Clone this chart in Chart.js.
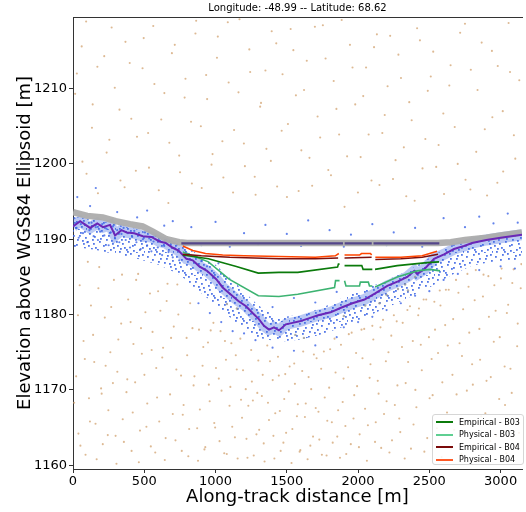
<!DOCTYPE html>
<html>
<head>
<meta charset="utf-8">
<script src="https://cdn.jsdelivr.net/npm/chart.js@4/dist/chart.umd.min.js"></script>
<style>
html, body { margin: 0; padding: 0; background: #fff; }
#wrap { position: relative; width: 526px; height: 512px; }
#legend {
  position: absolute; left: 432px; top: 414px; width: 92px; height: 51px;
  box-sizing: border-box; border: 1px solid #d6d6d6; border-radius: 3px;
  background: rgba(255,255,255,0.85); padding: 1px 0 0 3px;
  font: 8px 'DejaVu Sans', sans-serif; color: #000;
}
.row { height: 12.5px; display: flex; align-items: center; white-space: nowrap; }
.sw { width: 17px; height: 2px; margin-right: 6px; }
</style>
</head>
<body>
<div id="wrap">
  <canvas id="c" width="526" height="512"></canvas>
  <div id="legend"></div>
</div>
<script>
// tick labels
const xTicks = [0, 500, 1000, 1500, 2000, 2500, 3000];
const yTicks = [1160, 1170, 1180, 1190, 1200, 1210];
const titleText = 'Longitude: -48.99 -- Latitude: 68.62';

// ice surface (grey band) and lake surface
const surfaceLine = [[0,1193.6],[100,1193.1],[209,1192.9],[300,1192.4],[400,1192.0],[488,1191.7],[560,1191.0],[656,1190.0],[746,1189.6],[800,1189.5],
  [2560,1189.5],[2650,1189.6],[2750,1189.9],[2900,1190.2],[3000,1190.5],[3150,1190.9]];
const lakeLine = [[760,1189.45],[1894,1189.45],[1900,null],[1906,1189.45],[2096,1189.45],[2102,null],[2108,1189.45],[2570,1189.45]];

// lake bed profile
const bedLine = [[0,1191.7],[50,1192.4],[120,1191.5],[170,1192.1],[210,1191.6],[260,1191.9],[295,1190.5],[340,1191.2],[377,1190.9],[430,1190.8],
  [490,1190.4],[550,1190.3],[607,1189.7],[650,1189.5],[697,1188.9],[740,1188.5],[796,1187.4],[840,1187.2],[886,1186.4],[940,1185.8],
  [1005,1184.7],[1050,1183.6],[1117,1182.5],[1160,1181.8],[1214,1181.1],[1260,1180.2],[1304,1179.4],[1340,1178.5],[1375,1178.0],[1410,1178.3],
  [1445,1177.9],[1493,1178.7],[1540,1178.9],[1590,1179.1],[1654,1179.5],[1720,1179.9],[1807,1180.3],[1880,1180.9],[1960,1181.5],[2045,1182.0],
  [2120,1182.8],[2205,1183.8],[2280,1184.4],[2345,1185.0],[2394,1185.8],[2414,1185.4],[2463,1186.0],[2533,1187.4],[2603,1188.0],[2673,1188.7],
  [2743,1189.1],[2800,1189.5],[2900,1189.9],[3000,1190.2],[3150,1190.6]];

// envelope of the dense signal photon cloud
const signalUpper = [[0,1193.0],[150,1192.6],[300,1192.0],[450,1191.3],[600,1190.4],[750,1189.3],[850,1188.3],[1000,1186.6],[1150,1184.0],
  [1300,1181.2],[1450,1179.6],[1600,1180.0],[1750,1180.9],[1900,1182.3],[2050,1183.4],[2200,1184.6],[2350,1185.8],[2500,1187.5],[2650,1189.2],
  [2800,1189.7],[2950,1190.1],[3150,1190.6]];
const signalLower = [[0,1189.0],[150,1188.6],[300,1188.0],[450,1187.4],[600,1186.6],[750,1185.3],[850,1183.6],[1000,1181.3],[1150,1178.8],
  [1300,1176.9],[1450,1176.4],[1600,1176.7],[1750,1177.4],[1900,1178.4],[2050,1179.6],[2200,1180.9],[2350,1182.2],[2500,1183.6],[2650,1185.2],
  [2800,1186.5],[2950,1187.0],[3150,1187.3]];

// depth estimates
const empB03 = [[770,1187.9],[950,1187.4],[1140,1186.4],[1300,1185.5],[1445,1185.6],[1577,1185.6],[1856,1186.3],[1862,1186.7],[1870,1186.7],[1885,null],
  [1905,1186.5],[2026,1186.5],[2035,1186.0],[2100,1186.0],[2110,null],[2119,1186.0],[2275,1186.5],[2484,1186.9],[2568,1187.0]];
const phyB03 = [[770,1188.3],[950,1187.0],[1095,1184.7],[1300,1182.5],[1445,1182.4],[1577,1182.7],[1835,1183.6],[1842,1184.5],[1870,1184.5],[1885,null],
  [1905,1184.5],[1915,1183.8],[2010,1183.8],[2016,1184.3],[2072,1184.3],[2080,1183.8],[2100,1183.8],[2110,null],[2119,1183.7],[2135,1183.8],
  [2275,1185.0],[2414,1185.8],[2505,1186.0],[2575,1185.8]];
const empB04 = [[770,1188.0],[900,1187.8],[1100,1187.6],[1445,1187.4],[1700,1187.4],[1860,1187.5],[1880,null],[1905,1187.5],[2095,1187.6],[2110,null],
  [2121,1187.3],[2300,1187.4],[2450,1187.6],[2561,1188.0]];
const phyB04 = [[770,1189.1],[840,1188.5],[930,1188.1],[1050,1187.9],[1200,1187.8],[1445,1187.7],[1700,1187.6],[1840,1187.8],[1865,1188.1],[1880,null],
  [1905,1187.9],[2010,1187.9],[2024,1188.1],[2087,1188.1],[2095,1187.9],[2110,null],[2121,1187.6],[2300,1187.6],[2450,1187.8],[2554,1188.4]];

// scattered signal photons (blue)
const signalPhotons = [
  [10,1192.8],[25,1191.5],[40,1190.2],[55,1192.0],[70,1190.8],[85,1191.9],[100,1189.6],[115,1191.2],[130,1192.2],[145,1190.4],[160,1191.6],[175,1189.9],
  [190,1191.0],[205,1192.0],[220,1190.5],[235,1191.4],[250,1189.2],[265,1190.9],[280,1191.7],[295,1190.1],[310,1191.2],[325,1189.6],[340,1190.7],
  [355,1191.5],[370,1189.9],[385,1190.8],[400,1188.9],[415,1190.3],[430,1191.1],[445,1189.6],[460,1190.6],[475,1188.7],[490,1190.0],[505,1190.9],
  [520,1189.2],[535,1190.1],[550,1188.4],[565,1189.7],[580,1190.4],[595,1188.9],[610,1189.8],[625,1187.9],[640,1189.1],[655,1189.9],[670,1188.3],
  [685,1189.2],[700,1187.6],[715,1188.8],[730,1189.3],[745,1187.2],
  [30,1195.6],[120,1194.4],[160,1196.8],[310,1193.6],[450,1192.9],[520,1193.8],[640,1191.8],[700,1192.4],[830,1191.6],[1000,1192.3],[1200,1190.8],
  [1350,1191.9],[1500,1190.7],[1650,1192.5],[1800,1191.2],[1950,1190.6],[2100,1192.0],[2250,1190.9],[2400,1191.5],[2600,1192.8],[2750,1191.6],
  [2850,1193.0],[2950,1192.1],[3050,1193.4],[3120,1192.2],
  [880,1181.5],[960,1180.2],[1040,1179.0],[1120,1177.8],[1200,1177.5],[1280,1176.6],[1020,1186.8],[1060,1185.1],[900,1187.1],[940,1186.4],
  [1400,1181.0],[1550,1182.2],[1700,1181.6],[1850,1183.0],[1400,1175.6],[1550,1175.2],[1700,1175.9],[1850,1177.0],
  [1900,1178.3],[2000,1179.0],[2100,1179.7],[2200,1180.6],[2300,1181.5],[2400,1182.5],[2500,1183.1],[2600,1184.6],[2700,1185.4],[2850,1185.9],
  [3000,1186.4],[3100,1186.1],
  [900,1189.2],[1100,1189.0],[1300,1189.3],[1600,1189.1],[1900,1189.0],[2200,1189.2],[2450,1189.0]
];

// low-confidence photons (grey)
const grayPhotons = [[1080,1181.4],[1150,1180.8],[1560,1177.3],[1620,1176.9],[1900,1179.8],[2050,1181.2],[2150,1181.5],[2200,1182.6],
  [2280,1183.4],[2330,1184.0],[2350,1183.2],[2400,1185.0]];

// background noise photons (tan)
const noisePhotons = [
  [15,1209.3],[22,1171.8],[38,1164.2],[47,1183.9],[61,1215.6],[74,1176.5],[88,1161.4],[95,1198.7],[112,1168.9],[126,1181.2],[133,1204.8],[149,1173.7],
  [158,1165.5],[171,1212.9],[184,1186.3],[197,1170.2],[209,1162.8],[223,1179.6],[236,1201.5],[248,1167.3],[262,1175.0],[271,1218.1],[287,1184.6],
  [299,1163.9],[311,1172.4],[326,1207.2],[338,1178.8],[349,1166.1],[362,1196.9],[375,1169.7],[387,1182.0],[398,1213.4],[411,1161.9],[424,1176.1],
  [436,1171.0],[449,1203.6],[457,1185.4],[470,1164.6],[483,1174.8],[496,1216.7],[508,1180.3],[521,1168.2],[533,1199.5],[546,1162.5],[558,1177.7],
  [571,1210.6],[584,1172.9],[597,1183.1],[605,1165.8],[619,1205.9],[632,1175.6],[644,1160.7],[657,1181.8],[669,1194.8],[681,1169.4],[694,1214.7],
  [707,1178.4],[719,1163.3],[732,1184.0],[745,1201.1],[758,1171.9],[770,1166.7],[783,1208.8],[797,1176.9],[809,1161.2],[822,1181.5],[834,1197.4],
  [846,1170.6],[859,1217.3],[871,1164.9],[884,1178.0],[897,1205.0],[909,1173.2],[922,1162.1],[934,1211.8],[947,1176.3],[959,1168.5],[972,1199.9],
  [985,1178.9],[997,1165.0],[1010,1214.1],[1023,1171.5],[1035,1177.8],[1048,1203.0],[1061,1161.6],[1073,1174.0],[1086,1218.8],[1098,1167.9],
  [1111,1176.2],[1123,1196.2],[1136,1163.7],[1149,1172.7],[1161,1209.5],[1174,1176.8],[1186,1166.3],[1199,1202.7],[1212,1170.1],[1224,1161.0],
  [1237,1215.2],[1250,1175.3],[1262,1168.6],[1275,1198.3],[1287,1164.1],[1300,1173.9],[1313,1207.6],[1325,1169.2],[1338,1162.9],[1350,1212.4],
  [1363,1175.9],[1375,1166.0],[1388,1200.4],[1401,1171.3],[1413,1160.9],[1426,1216.0],[1438,1174.4],[1451,1167.2],[1464,1204.4],[1476,1163.0],
  [1489,1172.1],[1501,1195.6],[1514,1169.8],[1527,1217.9],[1539,1164.8],[1552,1173.5],[1564,1209.1],[1577,1168.1],[1590,1161.8],[1602,1201.8],
  [1615,1175.1],[1627,1166.4],[1640,1213.7],[1653,1171.7],[1665,1162.6],[1678,1197.1],[1690,1174.7],[1703,1167.6],[1716,1206.3],[1728,1163.4],
  [1741,1172.8],[1753,1218.4],[1766,1169.0],[1779,1161.3],[1791,1199.2],[1804,1175.4],[1816,1165.7],[1829,1211.0],[1842,1172.3],[1854,1163.8],
  [1867,1203.9],[1880,1176.0],[1892,1168.4],[1905,1194.3],[1917,1161.5],[1930,1173.0],[1943,1215.8],[1955,1177.6],[1968,1166.2],[1980,1207.9],
  [1993,1170.5],[2006,1162.4],[2018,1200.9],[2031,1174.2],[2043,1178.1],[2056,1212.8],[2069,1165.3],[2081,1171.6],[2094,1197.8],[2107,1176.7],
  [2119,1163.1],[2132,1217.2],[2144,1169.5],[2157,1178.3],[2170,1204.1],[2182,1166.8],[2195,1173.8],[2207,1210.3],[2220,1161.7],[2233,1177.2],
  [2245,1198.0],[2258,1168.0],[2271,1179.1],[2283,1214.5],[2296,1164.4],[2308,1175.7],[2321,1202.2],[2334,1170.9],[2346,1180.6],[2359,1208.2],
  [2371,1162.2],[2384,1176.5],[2397,1195.1],[2409,1167.7],[2422,1179.9],[2434,1216.4],[2447,1172.6],[2460,1182.0],[2472,1203.3],[2485,1163.6],
  [2497,1177.0],[2510,1211.6],[2523,1169.3],[2535,1181.7],[2548,1199.6],[2561,1174.9],[2573,1183.2],[2586,1161.1],[2598,1206.7],[2611,1178.6],
  [2624,1167.0],[2636,1183.3],[2649,1213.1],[2662,1172.0],[2674,1164.7],[2687,1184.6],[2699,1200.0],[2712,1176.2],[2725,1161.5],[2737,1180.7],
  [2750,1218.6],[2763,1169.9],[2775,1183.7],[2788,1196.6],[2800,1173.4],[2813,1162.7],[2826,1185.9],[2838,1209.8],[2851,1178.1],[2864,1166.5],
  [2876,1182.4],[2889,1204.6],[2901,1171.2],[2914,1185.1],[2927,1163.2],[2939,1215.0],[2952,1176.4],[2965,1180.5],[2977,1197.5],[2990,1168.8],
  [3002,1184.8],[3015,1207.0],[3028,1173.1],[3040,1161.6],[3053,1181.3],[3066,1212.2],[3078,1169.6],[3091,1186.0],[3103,1200.7],[3116,1175.8],
  [3129,1164.3],[3141,1183.5]
];
const noiseLow = [
  [8,1168.3],[35,1179.9],[52,1162.6],[83,1174.1],[104,1187.0],[119,1165.8],[141,1177.3],[166,1160.8],[178,1183.5],[201,1169.5],[229,1173.2],
  [244,1164.0],[268,1181.0],[280,1170.9],[305,1160.2],[318,1176.7],[344,1185.3],[357,1163.1],[381,1171.4],[404,1179.0],[419,1167.0],[443,1184.6],
  [462,1160.4],[477,1178.2],[501,1172.0],[515,1165.1],[540,1182.8],[552,1175.3],[577,1161.7],[590,1169.0],[613,1180.5],[626,1174.3],[650,1163.6],
  [663,1184.1],[688,1176.9],[700,1166.8],[725,1172.7],[739,1180.0],[763,1161.9],[776,1168.0],[801,1174.6],[815,1164.8],[838,1178.2],[852,1171.8],
  [877,1160.6],[890,1167.4],[914,1175.7],[928,1162.4],[953,1170.7],[966,1177.9],[991,1165.6],[1003,1172.9],[1028,1163.2],[1042,1169.9],
  [1066,1176.5],[1079,1161.5],[1104,1170.4],[1117,1165.1],[1142,1174.6],[1155,1160.9],[1179,1168.7],[1193,1172.6],[1217,1163.5],[1230,1167.9],
  [1255,1171.1],[1268,1161.3],[1293,1169.6],[1306,1164.7],[1331,1172.0],[1344,1160.5],[1368,1168.3],[1382,1173.8],[1406,1163.9],[1419,1166.9],
  [1444,1171.9],[1457,1161.9],[1482,1168.8],[1495,1164.3],[1520,1173.1],[1533,1160.3],[1557,1170.8],[1571,1166.5],[1595,1162.0],[1608,1172.5],
  [1633,1168.2],[1646,1160.8],[1671,1170.1],[1684,1163.8],[1709,1174.2],[1722,1167.1],[1746,1161.4],[1760,1175.1],[1784,1165.9],[1797,1170.3],
  [1822,1163.0],[1835,1176.8],[1860,1167.3],[1873,1161.0],[1898,1171.5],[1911,1165.2],[1935,1177.4],[1949,1162.8],[1973,1169.3],[1986,1174.9],
  [2011,1164.1],[2024,1178.0],[2049,1167.5],[2062,1160.6],[2087,1173.4],[2100,1178.5],[2124,1165.7],[2138,1171.2],[2162,1162.3],[2175,1179.3],
  [2200,1168.5],[2213,1175.0],[2238,1163.3],[2251,1179.9],[2276,1170.6],[2289,1166.2],[2313,1178.9],[2327,1160.9],[2351,1173.7],[2364,1181.1],
  [2389,1165.4],[2402,1170.0],[2427,1180.8],[2440,1176.0],[2465,1161.8],[2478,1182.0],[2502,1168.9],[2516,1174.1],[2540,1178.0],[2553,1164.9],
  [2578,1181.2],[2591,1171.0],[2616,1183.3],[2629,1175.9],[2653,1162.2],[2667,1179.4],[2691,1169.4],[2704,1182.9],[2729,1174.5],[2742,1165.3],
  [2767,1185.4],[2780,1177.6],[2805,1170.7],[2818,1181.9],[2842,1160.7],[2856,1174.0],[2880,1185.3],[2893,1166.9],[2918,1179.7],[2931,1171.7],
  [2956,1183.9],[2969,1163.9],[2994,1177.0],[3007,1186.1],[3031,1168.0],[3044,1180.2],[3069,1172.8],[3082,1184.2],[3107,1162.5],[3120,1178.8],
  [3145,1186.7]
];
const noiseHigh = [
  [27,1212.0],[66,1200.3],[92,1218.9],[138,1207.9],[175,1196.1],[219,1214.3],[255,1203.2],[293,1210.1],[333,1197.8],[368,1216.2],[409,1206.0],
  [441,1199.1],[488,1212.7],[527,1204.1],[563,1218.3],[602,1196.5],[641,1209.4],[676,1202.8],[714,1215.8],[751,1198.9],[789,1211.3],[828,1205.6],
  [864,1219.0],[903,1196.8],[941,1208.6],[979,1201.3],[1016,1216.9],[1055,1198.2],[1092,1210.8],[1130,1204.5],[1168,1219.2],[1206,1199.7],
  [1243,1212.2],[1281,1195.9],[1319,1208.1],[1357,1202.0],[1394,1217.6],[1432,1197.0],[1470,1211.9],[1508,1205.3],[1546,1215.1],[1583,1196.4],
  [1621,1209.8],[1659,1200.8],[1697,1218.2],[1734,1203.5],[1772,1214.0],[1810,1198.5],[1848,1207.3],[1885,1219.1],[1923,1201.0],[1961,1212.8],
  [1999,1196.2],[2036,1209.0],[2074,1203.9],[2112,1215.5],[2150,1197.2],[2187,1206.5],[2225,1217.0],[2263,1200.5],[2301,1211.4],[2338,1195.7],
  [2376,1205.8],[2414,1218.0],[2452,1199.4],[2489,1209.7],[2527,1214.9],[2565,1202.5],[2603,1196.0],[2640,1210.4],[2678,1204.9],[2716,1217.4],
  [2754,1197.9],[2791,1212.5],[2829,1201.6],[2867,1216.1],[2905,1195.8],[2942,1206.2],[2980,1213.0],[3018,1199.0],[3056,1218.7],[3093,1203.8],
  [3131,1211.1]
];

const legendItems = [
  ['Empirical - B03', '#0b7a0b'],
  ['Physical - B03', '#5fcf92'],
  ['Empirical - B04', '#7a0a0a'],
  ['Physical - B04', '#ff5a26']
];

const xy = arr => arr.map(p => ({ x: p[0], y: p[1] }));
const FONT = "'DejaVu Sans', sans-serif";

// speckle texture for the dense photon cloud
function speckle(color) {
  const t = document.createElement('canvas');
  t.width = 29; t.height = 23;
  const g = t.getContext('2d');
  g.fillStyle = color;
  [[2,3],[9,1],[15,5],[22,2],[27,7],[5,9],[12,11],[19,9],[25,13],[1,15],[8,17],[16,15],[23,19],[3,21],[11,21],[20,22],
   [14,0],[26,17],[7,6],[18,14],[10,19],[24,10],[0,11],[13,8],[28,21],[6,13],[21,5],[17,20],[4,18],[26,1]]
    .forEach(([a, b]) => g.fillRect(a, b, 1.8, 1.8));
  return g.createPattern(t, 'repeat');
}

function lineSet(label, data, color, width, order) {
  return { label, data: xy(data), showLine: true, borderColor: color, borderWidth: width,
    pointRadius: 0, tension: 0, spanGaps: false, order };
}
function dotSet(label, data, color, r, order) {
  return { label, data: xy(data), showLine: false, pointRadius: r, pointBackgroundColor: color,
    pointBorderWidth: 0, order };
}

const extras = {
  id: 'extras',
  afterDraw(chart) {
    const { ctx, chartArea: a } = chart;
    ctx.save();
    ctx.strokeStyle = '#333';
    ctx.lineWidth = 1;
    ctx.beginPath();
    ctx.moveTo(a.left, a.top + 0.5);
    ctx.lineTo(a.right + 1, a.top + 0.5);
    ctx.stroke();
    ctx.fillStyle = '#000';
    ctx.font = '10px ' + FONT;
    ctx.textAlign = 'center';
    ctx.textBaseline = 'middle';
    ctx.fillText(titleText, (a.left + a.right) / 2, 8.5);
    ctx.restore();
  }
};

const upperSet = lineSet('cloudTop', signalUpper, 'transparent', 0, 19);
upperSet.fill = '+1';
upperSet.backgroundColor = speckle('rgba(65,105,230,0.9)');
const lowerSet = lineSet('cloudBottom', signalLower, 'transparent', 0, 19);
const noiseColor = 'rgba(212,168,120,0.8)';

new Chart(document.getElementById('c'), {
  type: 'scatter',
  data: {
    datasets: [
      dotSet('noise', noisePhotons, noiseColor, 1.05, 21),
      dotSet('noiseLow', noiseLow, noiseColor, 1.05, 21),
      dotSet('noiseHigh', noiseHigh, noiseColor, 1.05, 21),
      upperSet,
      lowerSet,
      lineSet('band', bedLine, 'rgba(65,105,225,0.36)', 11, 18),
      dotSet('signal', signalPhotons, 'rgba(60,100,230,0.8)', 1.1, 17),
      dotSet('grey', grayPhotons, 'rgba(150,150,150,0.8)', 1.2, 16),
      lineSet('surface', surfaceLine, 'rgba(172,172,172,0.95)', 6.5, 15),
      lineSet('bed', bedLine, '#6a27b8', 2, 14),
      lineSet('lake', lakeLine, '#54468a', 2.4, 13),
      lineSet(legendItems[1][0], phyB03, '#3cb371', 1.6, 4),
      lineSet(legendItems[0][0], empB03, '#0b7a0b', 1.6, 3),
      lineSet(legendItems[2][0], empB04, '#7a1010', 1.6, 2),
      lineSet(legendItems[3][0], phyB04, '#ff4500', 1.6, 1)
    ]
  },
  options: {
    responsive: false,
    animation: false,
    devicePixelRatio: 1,
    layout: { padding: { top: 17, right: 1, left: 0, bottom: 0 } },
    plugins: { legend: { display: false }, tooltip: { enabled: false }, title: { display: false } },
    scales: {
      x: {
        type: 'linear', min: 0, max: 3150,
        afterBuildTicks: s => { s.ticks = xTicks.map(v => ({ value: v })); },
        afterFit: s => { s.height = 43; },
        grid: { drawOnChartArea: false, drawTicks: true, tickLength: 4, color: '#333' },
        border: { display: true, color: '#333', width: 1 },
        ticks: { font: { family: FONT, size: 13 }, color: '#000', padding: 1, maxRotation: 0, autoSkip: false,
          callback: v => String(v) },
        title: { display: true, text: 'Along-track distance [m]', color: '#000',
          font: { family: FONT, size: 18 }, padding: { top: 0, bottom: 4 } }
      },
      y: {
        type: 'linear', min: 1159.5, max: 1219.5,
        afterBuildTicks: s => { s.ticks = yTicks.map(v => ({ value: v })); },
        afterFit: s => { s.width = 73; },
        grid: { drawOnChartArea: false, drawTicks: true, tickLength: 4, color: '#333' },
        border: { display: true, color: '#333', width: 1 },
        ticks: { font: { family: FONT, size: 13 }, color: '#000', padding: 2, autoSkip: false,
          callback: v => String(v) },
        title: { display: true, text: 'Elevation above WGS84 Ellipsoid [m]', color: '#000',
          font: { family: FONT, size: 18 }, padding: { top: 15, bottom: 0 } }
      }
    }
  },
  plugins: [extras]
});

const leg = document.getElementById('legend');
legendItems.forEach(([t, c]) => {
  const row = document.createElement('div');
  row.className = 'row';
  const sw = document.createElement('span');
  sw.className = 'sw';
  sw.style.background = c;
  const tx = document.createElement('span');
  tx.textContent = t;
  row.appendChild(sw);
  row.appendChild(tx);
  leg.appendChild(row);
});
</script>
</body>
</html>
